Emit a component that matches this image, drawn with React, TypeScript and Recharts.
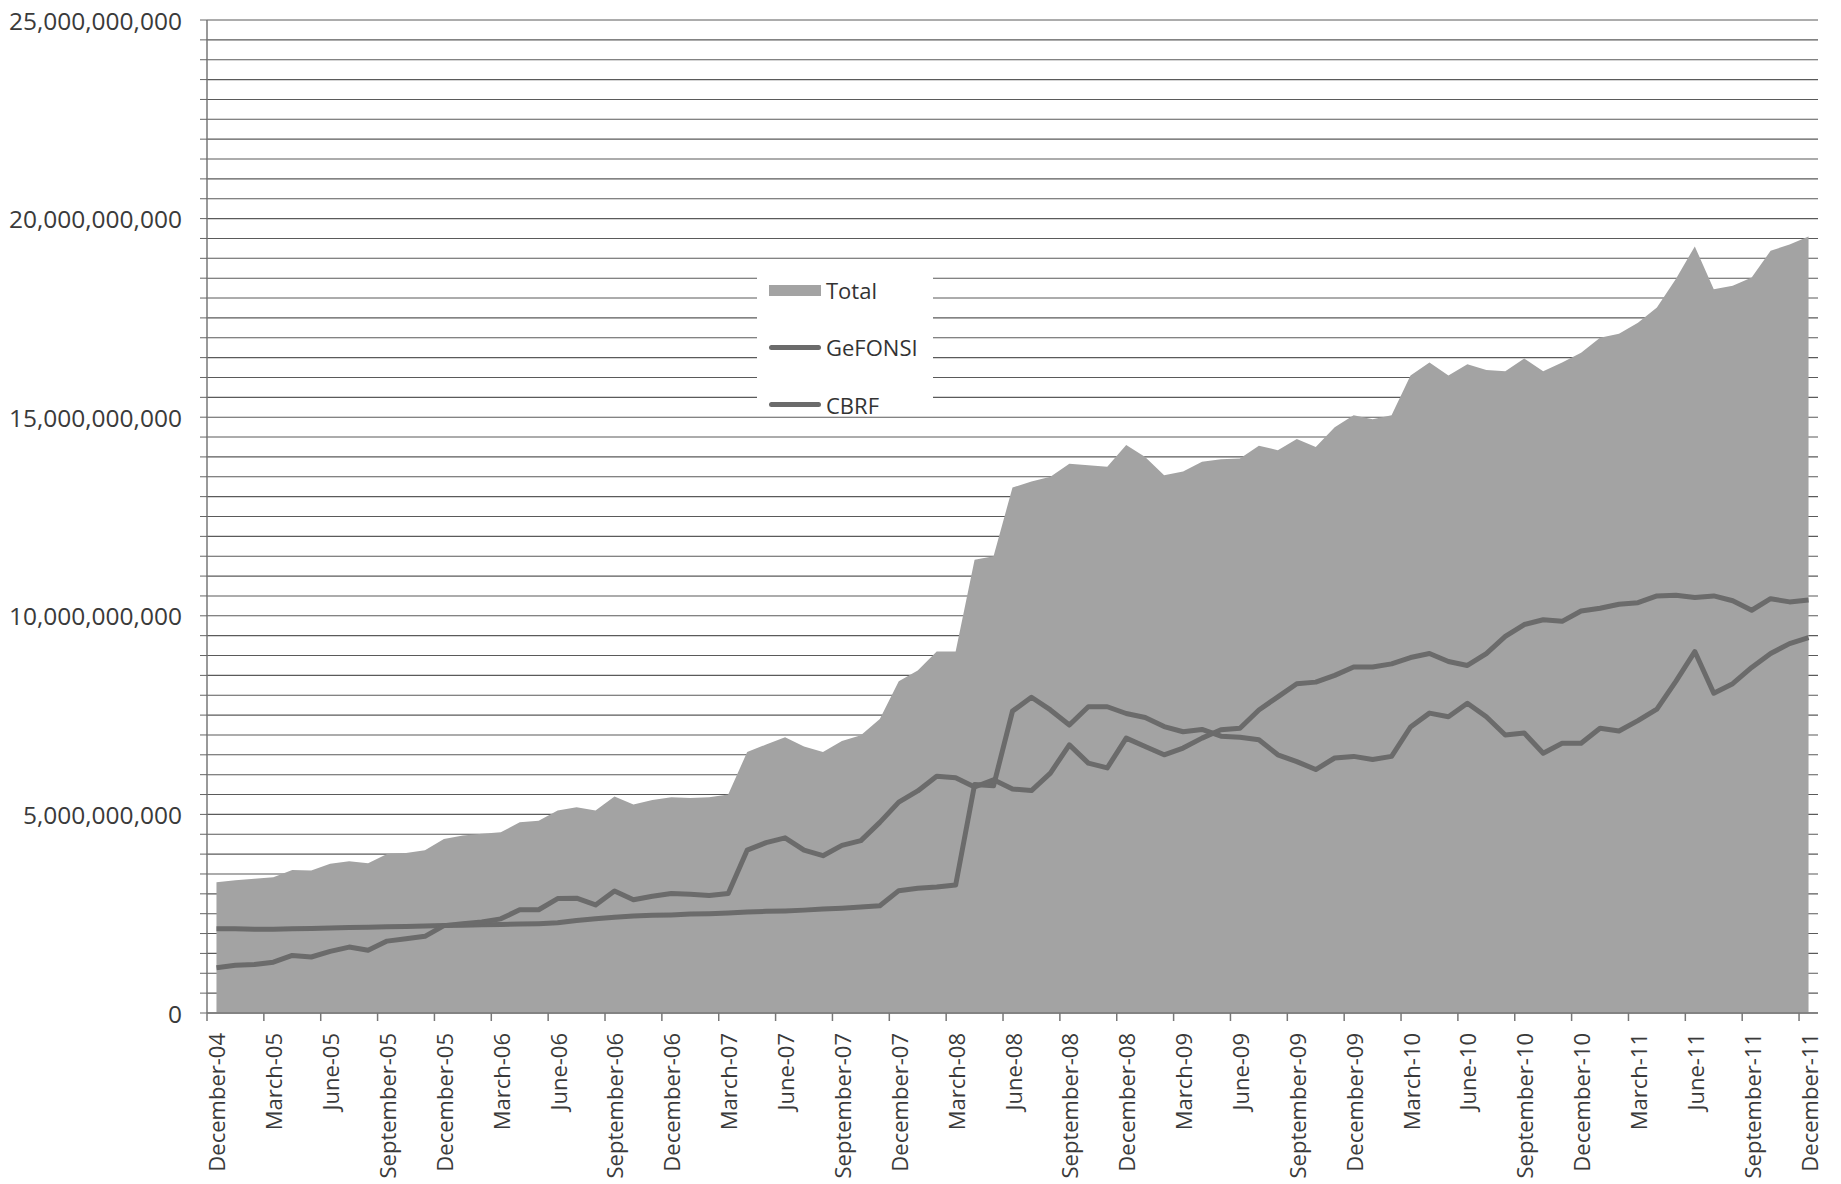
import React from "react";
import {
  ComposedChart,
  Area,
  Line,
  XAxis,
  YAxis,
  CartesianGrid,
  Legend,
} from "recharts";

// monthly categories, December 2004 .. December 2011
const months = [
  "December-04",
  "January-05", "February-05", "March-05", "April-05", "May-05", "June-05",
  "July-05", "August-05", "September-05", "October-05", "November-05", "December-05",
  "January-06", "February-06", "March-06", "April-06", "May-06", "June-06",
  "July-06", "August-06", "September-06", "October-06", "November-06", "December-06",
  "January-07", "February-07", "March-07", "April-07", "May-07", "June-07",
  "July-07", "August-07", "September-07", "October-07", "November-07", "December-07",
  "January-08", "February-08", "March-08", "April-08", "May-08", "June-08",
  "July-08", "August-08", "September-08", "October-08", "November-08", "December-08",
  "January-09", "February-09", "March-09", "April-09", "May-09", "June-09",
  "July-09", "August-09", "September-09", "October-09", "November-09", "December-09",
  "January-10", "February-10", "March-10", "April-10", "May-10", "June-10",
  "July-10", "August-10", "September-10", "October-10", "November-10", "December-10",
  "January-11", "February-11", "March-11", "April-11", "May-11", "June-11",
  "July-11", "August-11", "September-11", "October-11", "November-11", "December-11",
];

// values in billions
const total = [
  3.29,
  3.34, 3.38, 3.42, 3.6, 3.59, 3.76, 3.82, 3.77, 4.0, 4.03, 4.1, 4.38,
  4.47, 4.51, 4.55, 4.8, 4.84, 5.1, 5.18, 5.1, 5.45, 5.25, 5.36, 5.43,
  5.41, 5.43, 5.5, 6.57, 6.76, 6.94, 6.71, 6.57, 6.85, 6.99, 7.4, 8.35,
  8.62, 9.1, 9.1, 11.41, 11.5, 13.23, 13.38, 13.5, 13.83, 13.79, 13.75, 14.3,
  14.0, 13.54, 13.63, 13.88, 13.94, 13.96, 14.28, 14.17, 14.45, 14.25, 14.75, 15.05,
  14.95, 15.05, 16.05, 16.38, 16.05, 16.33, 16.19, 16.16, 16.48, 16.16, 16.38, 16.62,
  17.0, 17.1, 17.38, 17.76, 18.48, 19.3, 18.22, 18.31, 18.52, 19.19, 19.35, 19.55,
];

const gefonsi = [
  2.12,
  2.12, 2.11, 2.11, 2.12, 2.13, 2.14, 2.15, 2.16, 2.17, 2.18, 2.19, 2.2,
  2.21, 2.22, 2.23, 2.24, 2.25, 2.27, 2.33, 2.37, 2.41, 2.44, 2.46, 2.47,
  2.49, 2.5, 2.52, 2.54, 2.56, 2.57, 2.59, 2.62, 2.64, 2.67, 2.7, 3.08,
  3.14, 3.17, 3.22, 5.75, 5.72, 7.6, 7.95, 7.63, 7.25, 7.71, 7.71, 7.54,
  7.44, 7.21, 7.08, 7.14, 6.97, 6.94, 6.88, 6.5, 6.33, 6.13, 6.42, 6.46,
  6.38, 6.46, 7.2, 7.55, 7.46, 7.8, 7.46, 7.0, 7.05, 6.54, 6.79, 6.79,
  7.17, 7.1, 7.36, 7.65, 8.35, 9.1, 8.05, 8.29, 8.7, 9.05, 9.3, 9.45,
];

const cbrf = [
  1.14,
  1.2, 1.22, 1.28, 1.45, 1.41, 1.55, 1.66, 1.58, 1.81, 1.87, 1.93, 2.2,
  2.25, 2.29, 2.37, 2.6, 2.6, 2.88, 2.89, 2.72, 3.07, 2.85, 2.94, 3.01,
  2.99, 2.96, 3.01, 4.1, 4.29, 4.41, 4.1, 3.96, 4.22, 4.34, 4.8, 5.31,
  5.59, 5.96, 5.92, 5.69, 5.87, 5.64, 5.6, 6.04, 6.75, 6.29, 6.17, 6.92,
  6.71, 6.5, 6.67, 6.92, 7.13, 7.17, 7.63, 7.96, 8.29, 8.33, 8.5, 8.71,
  8.71, 8.79, 8.95, 9.05, 8.85, 8.75, 9.05, 9.48, 9.78, 9.9, 9.86, 10.12,
  10.19, 10.29, 10.33, 10.5, 10.52, 10.46, 10.5, 10.38, 10.14, 10.43, 10.35, 10.4,
];

const yLabels = [0, 5, 10, 15, 20, 25];
const yTicks = Array.from({ length: 51 }, (_, k) => k * 0.5);

const data = months.map((m, i) => ({
  month: m,
  Total: total[i],
  GeFONSI: gefonsi[i],
  CBRF: cbrf[i],
}));

const FONT = "'Open Sans', sans-serif";
const PLOT_W = 1611;
const BAND = PLOT_W / months.length;
const LINE_COLOR = "#6b6b6b";
const AREA_COLOR = "#a3a3a3";

const YTick = (props: any) => {
  const { x, y, payload } = props;
  if (!yLabels.includes(payload.value)) return <g />;
  return (
    <text x={x} y={y} textAnchor="end" dominantBaseline="central" fontSize={24.5} fill="#3a3a3a" fontFamily={FONT}>
      {(payload.value * 1e9).toLocaleString("en-US")}
    </text>
  );
};

const XTick = (props: any) => {
  const { x, y, payload } = props;
  const ty = y + 20;
  return (
    <g>
      <line x1={x - BAND / 2} x2={x - BAND / 2} y1={y} y2={y + 8} stroke="#777" strokeWidth={1.5} />
      <text
        x={x}
        y={ty}
        transform={`rotate(-90 ${x} ${ty})`}
        textAnchor="end"
        dominantBaseline="central"
        fontSize={22}
        fill="#3a3a3a"
        fontFamily={FONT}
      >
        {payload.value}
      </text>
    </g>
  );
};

const LegendBox = () => (
  <div style={{ position: "relative", width: 176, height: 150, background: "#fff", fontFamily: FONT, fontSize: 22, color: "#333" }}>
    <div style={{ position: "absolute", left: 12, top: 23, width: 52, height: 11, background: AREA_COLOR }} />
    <div style={{ position: "absolute", left: 69, top: 13, lineHeight: "30px" }}>Total</div>
    <div style={{ position: "absolute", left: 12, top: 83, width: 52, height: 5, borderRadius: 3, background: LINE_COLOR }} />
    <div style={{ position: "absolute", left: 69, top: 70, lineHeight: "30px" }}>GeFONSI</div>
    <div style={{ position: "absolute", left: 12, top: 140, width: 52, height: 5, borderRadius: 3, background: LINE_COLOR }} />
    <div style={{ position: "absolute", left: 69, top: 128, lineHeight: "30px" }}>CBRF</div>
  </div>
);

export default function App() {
  return (
    <div style={{ marginTop: -8 }}>
      <ComposedChart
        width={1825}
        height={1184}
        data={data}
        margin={{ top: 20, right: 15, left: 0, bottom: 0 }}
      >
        <CartesianGrid vertical={false} stroke="#5a5a5a" strokeWidth={1.1} />
        <XAxis
          dataKey="month"
          scale="band"
          interval={2}
          height={171}
          tickLine={false}
          tickSize={0}
          tickMargin={0}
          tick={<XTick />}
          axisLine={{ stroke: "#777", strokeWidth: 1.5 }}
        />
        <YAxis
          type="number"
          domain={[0, 25]}
          ticks={yTicks}
          interval={0}
          width={199}
          tickSize={7}
          tickMargin={18}
          tick={<YTick />}
          tickLine={{ stroke: "#666" }}
          axisLine={{ stroke: "#777", strokeWidth: 1.5 }}
        />
        <Legend
          layout="horizontal"
          verticalAlign="middle"
          align="center"
          content={<LegendBox />}
          wrapperStyle={{ position: "absolute", left: 749, top: 262, width: 176, height: 150 }}
        />
        <Area
          type="linear"
          dataKey="Total"
          stroke="none"
          fill={AREA_COLOR}
          fillOpacity={1}
          isAnimationActive={false}
        />
        <Line
          type="linear"
          dataKey="GeFONSI"
          stroke={LINE_COLOR}
          strokeWidth={5}
          dot={false}
          strokeLinejoin="round"
          isAnimationActive={false}
        />
        <Line
          type="linear"
          dataKey="CBRF"
          stroke={LINE_COLOR}
          strokeWidth={5}
          dot={false}
          strokeLinejoin="round"
          isAnimationActive={false}
        />
      </ComposedChart>
    </div>
  );
}
